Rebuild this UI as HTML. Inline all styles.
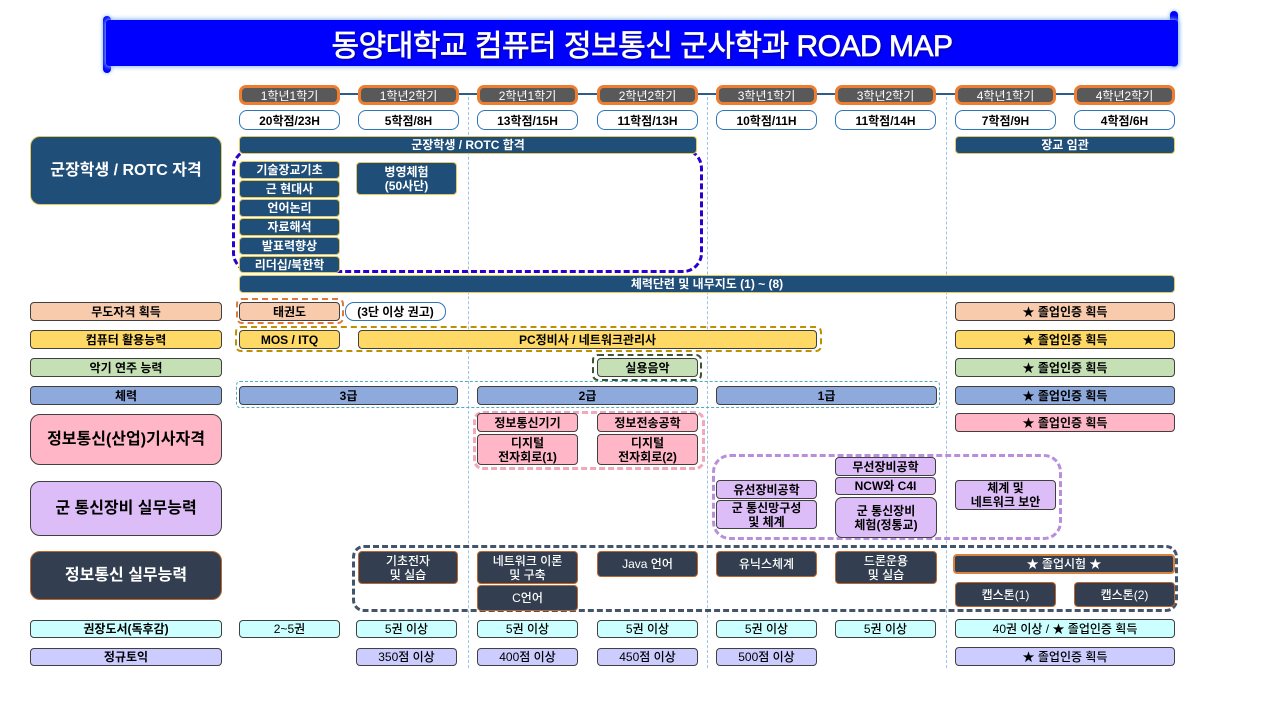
<!DOCTYPE html>
<html><head><meta charset="utf-8">
<style>
*{margin:0;padding:0;box-sizing:border-box;}
html,body{width:1280px;height:720px;background:#fff;overflow:hidden;}
body{position:relative;font-family:"Liberation Sans","Noto Sans CJK KR",sans-serif;}
.a{position:absolute;}
.b{position:absolute;display:flex;align-items:center;justify-content:center;text-align:center;border:1px solid #404040;border-radius:4px;font-size:12px;font-weight:bold;line-height:14px;color:#000;white-space:nowrap;}
.nv{background:#1F4E79;border:1.5px solid #E6C95A;color:#fff;}
.dk{background:#333F50;border:1.5px solid #C0652A;color:#fff;font-weight:500;}
.pe{background:#F8CBAD;}
.ye{background:#FFD966;}
.gr{background:#C5E0B4;}
.bl{background:#8EA9DB;}
.pk{background:#FFB7C8;}
.pu{background:#DDBDF7;}
.cy{background:#CCFFFF;}
.lv{background:#CCCCFF;}
.sem{position:absolute;top:85px;width:101px;height:20px;background:#595959;border:3px solid #ED7D31;border-radius:7px;color:#fff;font-size:12px;display:flex;align-items:center;justify-content:center;}
.cr{position:absolute;top:110px;width:101px;height:20px;background:#fff;border:1px solid #2E75B6;border-radius:8px;color:#000;font-size:12px;font-weight:bold;display:flex;align-items:center;justify-content:center;}
.vl{position:absolute;top:97px;height:571px;width:0;border-left:1px dashed #9DC3E6;}
.big{font-size:16px;font-weight:bold;line-height:20px;border-radius:10px;}
.ds{position:absolute;}
.nb{font-weight:500;}
</style></head><body>

<!-- title banner -->
<div class="a" style="left:103px;top:16px;width:8px;height:57px;background:#0000FF;border-radius:4px;box-shadow:0 0 4px #7FB2F0;"></div>
<div class="a" style="left:1170px;top:11px;width:8px;height:56px;background:#0000FF;border-radius:4px;box-shadow:0 0 4px #7FB2F0;"></div>
<div class="a" style="left:106px;top:20px;width:1072px;height:46px;background:#0000FF;border-radius:3px;box-shadow:0 0 5px 1px #8DBBF2;"></div>
<div class="a" style="left:106px;top:20px;width:1072px;height:46px;color:#fff;font-size:30px;display:flex;align-items:center;justify-content:center;letter-spacing:-0.5px;-webkit-text-stroke:0.7px #fff;text-shadow:1px 1px 2px #00006A;">동양대학교 컴퓨터 정보통신 군사학과 ROAD MAP</div>

<!-- vertical dashed lines -->
<div class="vl" style="left:468px;"></div>
<div class="vl" style="left:707px;"></div>
<div class="vl" style="left:946px;"></div>

<!-- header connector -->
<div class="a" style="left:340px;top:93px;width:734px;height:2px;background:#2E5C8A;"></div>

<div class="sem" style="left:239px;">1학년1학기</div>
<div class="sem" style="left:358px;">1학년2학기</div>
<div class="sem" style="left:477px;">2학년1학기</div>
<div class="sem" style="left:597px;">2학년2학기</div>
<div class="sem" style="left:716px;">3학년1학기</div>
<div class="sem" style="left:835px;">3학년2학기</div>
<div class="sem" style="left:955px;">4학년1학기</div>
<div class="sem" style="left:1074px;">4학년2학기</div>

<div class="cr" style="left:239px;">20학점/23H</div>
<div class="cr" style="left:358px;">5학점/8H</div>
<div class="cr" style="left:477px;">13학점/15H</div>
<div class="cr" style="left:597px;">11학점/13H</div>
<div class="cr" style="left:716px;">10학점/11H</div>
<div class="cr" style="left:835px;">11학점/14H</div>
<div class="cr" style="left:955px;">7학점/9H</div>
<div class="cr" style="left:1074px;">4학점/6H</div>

<!-- dashed group borders -->
<div class="ds" style="left:232px;top:148px;width:471px;height:125px;border:3px dashed #2A00CC;border-radius:20px;"></div>
<div class="ds" style="left:236px;top:298px;width:108px;height:26px;border:2.5px dashed #E07A3A;border-radius:6px;"></div>
<div class="ds" style="left:235px;top:326px;width:587px;height:26px;border:2.5px dashed #BF9000;border-radius:6px;"></div>
<div class="ds" style="left:592px;top:354px;width:110px;height:27px;border:2.5px dashed #3A5530;border-radius:6px;"></div>
<div class="ds" style="left:236px;top:381px;width:704px;height:27px;border:1px dashed #4BACC6;border-radius:4px;"></div>
<div class="ds" style="left:473px;top:411px;width:232px;height:59px;border:3px dashed #F2A7BA;border-radius:10px;"></div>
<div class="ds" style="left:712px;top:454px;width:350px;height:86px;border:3px dashed #B98FDC;border-radius:18px;"></div>
<div class="ds" style="left:352px;top:545px;width:826px;height:67px;border:3px dashed #44546A;border-radius:12px;"></div>

<!-- left labels -->
<div class="b nv big" style="left:30px;top:136px;width:192px;height:69px;color:#fff;">군장학생 / ROTC 자격</div>
<div class="b pe" style="left:30px;top:302px;width:192px;height:19px;">무도자격 획득</div>
<div class="b ye" style="left:30px;top:330px;width:192px;height:19px;">컴퓨터 활용능력</div>
<div class="b gr" style="left:30px;top:358px;width:192px;height:19px;">악기 연주 능력</div>
<div class="b bl" style="left:30px;top:386px;width:192px;height:19px;">체력</div>
<div class="b pk big" style="left:30px;top:414px;width:192px;height:51px;">정보통신(산업)기사자격</div>
<div class="b pu big" style="left:30px;top:481px;width:192px;height:55px;">군 통신장비 실무능력</div>
<div class="b dk big" style="left:30px;top:551px;width:192px;height:49px;font-weight:bold;">정보통신 실무능력</div>
<div class="b cy" style="left:30px;top:620px;width:192px;height:18px;">권장도서(독후감)</div>
<div class="b lv" style="left:30px;top:648px;width:192px;height:18px;">정규토익</div>

<!-- ROTC row -->
<div class="b nv" style="left:239px;top:136px;width:458px;height:18px;">군장학생 / ROTC 합격</div>
<div class="b nv" style="left:955px;top:136px;width:220px;height:18px;">장교 임관</div>
<div class="b nv" style="left:239px;top:161px;width:101px;height:18px;">기술장교기초</div>
<div class="b nv" style="left:239px;top:180px;width:101px;height:18px;">근 현대사</div>
<div class="b nv" style="left:239px;top:199px;width:101px;height:18px;">언어논리</div>
<div class="b nv" style="left:239px;top:218px;width:101px;height:18px;">자료해석</div>
<div class="b nv" style="left:239px;top:237px;width:101px;height:18px;">발표력향상</div>
<div class="b nv" style="left:239px;top:256px;width:101px;height:17px;">리더십/북한학</div>
<div class="b nv" style="left:356px;top:162px;width:101px;height:33px;">병영체험<br>(50사단)</div>
<div class="b nv" style="left:239px;top:275px;width:936px;height:18px;">체력단련 및 내무지도 (1) ~ (8)</div>

<!-- 무도 -->
<div class="b pe" style="left:239px;top:302px;width:101px;height:19px;">태권도</div>
<div class="b" style="left:345px;top:302px;width:101px;height:19px;background:#fff;border:1px solid #2E75B6;border-radius:9px;">(3단 이상 권고)</div>
<div class="b pe" style="left:955px;top:302px;width:220px;height:19px;">★ 졸업인증 획득</div>

<!-- 컴퓨터 -->
<div class="b ye" style="left:239px;top:330px;width:101px;height:19px;">MOS / ITQ</div>
<div class="b ye" style="left:358px;top:330px;width:459px;height:19px;">PC정비사 / 네트워크관리사</div>
<div class="b ye" style="left:955px;top:330px;width:220px;height:19px;">★ 졸업인증 획득</div>

<!-- 악기 -->
<div class="b gr" style="left:597px;top:358px;width:101px;height:19px;">실용음악</div>
<div class="b gr" style="left:955px;top:358px;width:220px;height:19px;">★ 졸업인증 획득</div>

<!-- 체력 -->
<div class="b bl" style="left:239px;top:386px;width:219px;height:19px;">3급</div>
<div class="b bl" style="left:477px;top:386px;width:221px;height:19px;">2급</div>
<div class="b bl" style="left:716px;top:386px;width:221px;height:19px;">1급</div>
<div class="b bl" style="left:955px;top:386px;width:220px;height:19px;">★ 졸업인증 획득</div>

<!-- 정보통신 기사 -->
<div class="b pk" style="left:477px;top:413px;width:101px;height:19px;">정보통신기기</div>
<div class="b pk" style="left:597px;top:413px;width:101px;height:19px;">정보전송공학</div>
<div class="b pk" style="left:477px;top:434px;width:101px;height:31px;">디지털<br>전자회로(1)</div>
<div class="b pk" style="left:597px;top:434px;width:101px;height:31px;">디지털<br>전자회로(2)</div>
<div class="b pk" style="left:955px;top:413px;width:220px;height:19px;">★ 졸업인증 획득</div>

<!-- 군 통신장비 -->
<div class="b pu" style="left:716px;top:480px;width:101px;height:19px;">유선장비공학</div>
<div class="b pu" style="left:716px;top:500px;width:101px;height:29px;">군 통신망구성<br>및 체계</div>
<div class="b pu" style="left:835px;top:457px;width:101px;height:19px;">무선장비공학</div>
<div class="b pu" style="left:835px;top:477px;width:101px;height:18px;">NCW와 C4I</div>
<div class="b pu" style="left:835px;top:497px;width:102px;height:41px;border-radius:7px;">군 통신장비<br>체험(정통교)</div>
<div class="b pu" style="left:955px;top:480px;width:101px;height:30px;">체계 및<br>네트워크 보안</div>

<!-- 정보통신 실무 -->
<div class="b dk" style="left:358px;top:551px;width:100px;height:33px;">기초전자<br>및 실습</div>
<div class="b dk" style="left:477px;top:551px;width:101px;height:33px;">네트워크 이론<br>및 구축</div>
<div class="b dk" style="left:477px;top:585px;width:101px;height:26px;">C언어</div>
<div class="b dk" style="left:597px;top:551px;width:101px;height:26px;">Java 언어</div>
<div class="b dk" style="left:716px;top:551px;width:101px;height:26px;">유닉스체계</div>
<div class="b dk" style="left:835px;top:551px;width:102px;height:33px;">드론운용<br>및 실습</div>
<div class="b dk" style="left:953px;top:554px;width:222px;height:20px;border:2px solid #D7823E;">★ 졸업시험 ★</div>
<div class="b dk" style="left:955px;top:582px;width:101px;height:25px;">캡스톤(1)</div>
<div class="b dk" style="left:1074px;top:582px;width:101px;height:25px;">캡스톤(2)</div>

<!-- 권장도서 -->
<div class="b cy nb" style="left:239px;top:620px;width:101px;height:18px;">2~5권</div>
<div class="b cy nb" style="left:356px;top:620px;width:101px;height:18px;">5권 이상</div>
<div class="b cy nb" style="left:477px;top:620px;width:101px;height:18px;">5권 이상</div>
<div class="b cy nb" style="left:597px;top:620px;width:101px;height:18px;">5권 이상</div>
<div class="b cy nb" style="left:716px;top:620px;width:101px;height:18px;">5권 이상</div>
<div class="b cy nb" style="left:835px;top:620px;width:101px;height:18px;">5권 이상</div>
<div class="b cy nb" style="left:955px;top:619px;width:220px;height:19px;">40권 이상 / ★ 졸업인증 획득</div>

<!-- 토익 -->
<div class="b lv nb" style="left:356px;top:648px;width:101px;height:18px;">350점 이상</div>
<div class="b lv nb" style="left:477px;top:648px;width:101px;height:18px;">400점 이상</div>
<div class="b lv nb" style="left:597px;top:648px;width:101px;height:18px;">450점 이상</div>
<div class="b lv nb" style="left:716px;top:648px;width:101px;height:18px;">500점 이상</div>
<div class="b lv nb" style="left:955px;top:647px;width:220px;height:19px;">★ 졸업인증 획득</div>

</body></html>
